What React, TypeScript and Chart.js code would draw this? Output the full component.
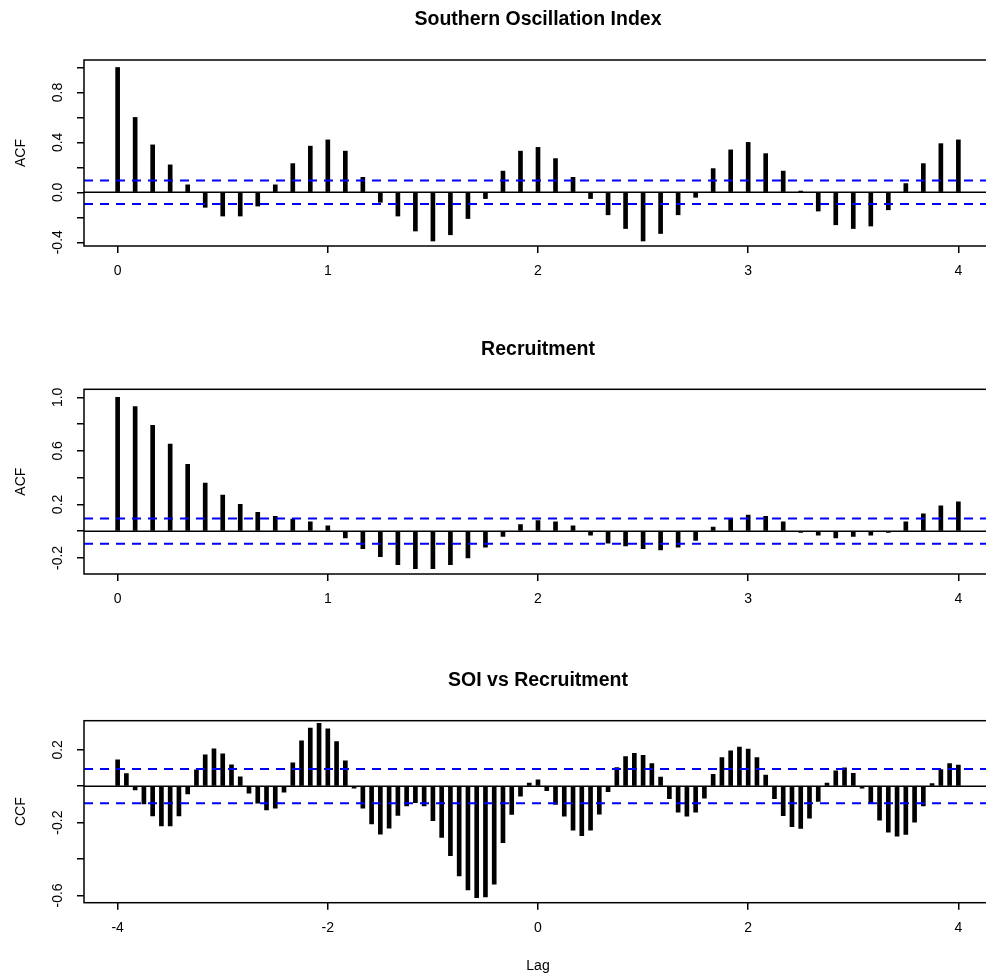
import React, { useEffect, useRef } from 'react';
import { Chart, registerables } from 'chart.js';

Chart.register(...registerables);

const FONT = "'Liberation Sans', Arial, Helvetica, sans-serif";

// Lags in years (monthly steps)
const acfLags = Array.from({ length: 49 }, (_, k) => k / 12);
const ccfLags = Array.from({ length: 97 }, (_, k) => (k - 48) / 12);

const soiAcf = [
  1.0, 0.6, 0.38, 0.22, 0.06, -0.12, -0.19, -0.19, -0.11, 0.06, 0.23, 0.37, 0.42,
  0.33, 0.12, -0.08, -0.19, -0.31, -0.39, -0.34, -0.21, -0.05, 0.17, 0.33, 0.36,
  0.27, 0.12, -0.05, -0.18, -0.29, -0.39, -0.33, -0.18, -0.04, 0.19, 0.34, 0.4,
  0.31, 0.17, 0.01, -0.15, -0.26, -0.29, -0.27, -0.14, 0.07, 0.23, 0.39, 0.42,
];

const recAcf = [
  1.0, 0.93, 0.79, 0.65, 0.5, 0.36, 0.27, 0.2, 0.14, 0.11, 0.09, 0.07, 0.04,
  -0.05, -0.13, -0.19, -0.25, -0.28, -0.28, -0.25, -0.2, -0.12, -0.04, 0.05, 0.08,
  0.07, 0.04, -0.03, -0.09, -0.11, -0.13, -0.14, -0.12, -0.07, 0.03, 0.09, 0.12,
  0.11, 0.07, -0.01, -0.03, -0.05, -0.04, -0.03, -0.01, 0.07, 0.13, 0.19, 0.22,
];

const soiRecCcf = [
  0.145, 0.07, -0.02, -0.097, -0.163, -0.218, -0.218, -0.163, -0.042, 0.09, 0.172, 0.205,
  0.178, 0.117, 0.051, -0.038, -0.093, -0.13, -0.12, -0.033, 0.128, 0.249, 0.32, 0.345,
  0.315, 0.245, 0.139, -0.011, -0.12, -0.207, -0.264, -0.231, -0.161, -0.108, -0.09, -0.108,
  -0.189, -0.282, -0.381, -0.493, -0.57, -0.612, -0.608, -0.538, -0.31, -0.155, -0.055, 0.017,
  0.035, -0.024, -0.1, -0.165, -0.242, -0.272, -0.242, -0.154, -0.03, 0.103, 0.163, 0.181,
  0.17, 0.125, 0.05, -0.068, -0.142, -0.165, -0.142, -0.065, 0.066, 0.158, 0.194, 0.215,
  0.204, 0.158, 0.061, -0.068, -0.162, -0.222, -0.232, -0.176, -0.084, 0.017, 0.084, 0.101,
  0.071, -0.011, -0.093, -0.187, -0.252, -0.275, -0.265, -0.197, -0.108, 0.014, 0.091, 0.125,
  0.116,
];

const confBound = 0.094;

const acfXTicks = [0, 1, 2, 3, 4];
const ccfXTicks = [-4, -2, 0, 2, 4];

const soiYTicks = [-0.4, -0.2, 0, 0.2, 0.4, 0.6, 0.8, 1.0];
const soiYLabels = [-0.4, 0, 0.4, 0.8];
const recYTicks = [-0.2, 0, 0.2, 0.4, 0.6, 0.8, 1.0];
const recYLabels = [-0.2, 0.2, 0.6, 1.0];
const ccfYTicks = [-0.6, -0.4, -0.2, 0, 0.2];
const ccfYLabels = [-0.6, -0.2, 0.2];

type PanelSpec = {
  title: string;
  yTitle: string;
  xTitle?: string;
  lags: number[];
  values: number[];
  xMin: number;
  xMax: number;
  xTicks: number[];
  yMin: number;
  yMax: number;
  yTicks: number[];
  yLabels: number[];
  titlePadTop: number;
  titlePadBottom: number;
  xAxisHeight: number;
  top: number;
  height: number;
};

const panels: PanelSpec[] = [
  {
    title: 'Southern Oscillation Index', yTitle: 'ACF', lags: acfLags, values: soiAcf,
    xMin: -0.16, xMax: 4.16, xTicks: acfXTicks, yMin: -0.43, yMax: 1.06,
    yTicks: soiYTicks, yLabels: soiYLabels, titlePadTop: 8, titlePadBottom: 28.6,
    xAxisHeight: 74, top: 0, height: 320,
  },
  {
    title: 'Recruitment', yTitle: 'ACF', lags: acfLags, values: recAcf,
    xMin: -0.16, xMax: 4.16, xTicks: acfXTicks, yMin: -0.32, yMax: 1.06,
    yTicks: recYTicks, yLabels: recYLabels, titlePadTop: 17.6, titlePadBottom: 28.3,
    xAxisHeight: 66, top: 320, height: 320,
  },
  {
    title: 'SOI vs Recruitment', yTitle: 'CCF', xTitle: 'Lag', lags: ccfLags, values: soiRecCcf,
    xMin: -4.32, xMax: 4.32, xTicks: ccfXTicks, yMin: -0.64, yMax: 0.36,
    yTicks: ccfYTicks, yLabels: ccfYLabels, titlePadTop: 28.6, titlePadBottom: 28.7,
    xAxisHeight: 72.3, top: 640, height: 335,
  },
];

const CANVAS_W = 1000;

function makeConfig(p: PanelSpec): any {
  const framePlugin = {
    id: 'frameAndLabels',
    afterDraw(chart: any) {
      const { ctx, chartArea } = chart;
      ctx.save();
      ctx.strokeStyle = '#000';
      ctx.lineWidth = 1.5;
      ctx.strokeRect(chartArea.left, chartArea.top, chartArea.right - chartArea.left, chartArea.bottom - chartArea.top);
      const ys = chart.scales.y;
      ctx.fillStyle = '#000';
      ctx.font = `14px ${FONT}`;
      ctx.textAlign = 'center';
      ctx.textBaseline = 'middle';
      p.yLabels.forEach((v) => {
        const py = ys.getPixelForValue(v);
        ctx.save();
        ctx.translate(58, py);
        ctx.rotate(-Math.PI / 2);
        ctx.fillText(v.toFixed(1), 0, 0);
        ctx.restore();
      });
      ctx.restore();
    },
  };

  return {
    type: 'bar',
    data: {
      datasets: [
        {
          type: 'line',
          data: [{ x: p.xMin, y: 0 }, { x: p.xMax, y: 0 }],
          borderColor: '#000', borderWidth: 1.5, pointRadius: 0, order: 2,
        },
        {
          type: 'bar',
          data: p.lags.map((x, i) => ({ x, y: p.values[i] })),
          backgroundColor: '#000', borderWidth: 0, barThickness: 4, order: 1,
        },
        {
          type: 'line',
          data: [{ x: p.xMin, y: confBound }, { x: p.xMax, y: confBound }],
          borderColor: '#0000ff', borderWidth: 2, borderDash: [9, 7], pointRadius: 0, order: 0,
        },
        {
          type: 'line',
          data: [{ x: p.xMin, y: -confBound }, { x: p.xMax, y: -confBound }],
          borderColor: '#0000ff', borderWidth: 2, borderDash: [9, 7], pointRadius: 0, order: 0,
        },
      ],
    },
    options: {
      animation: false,
      responsive: false,
      devicePixelRatio: 1,
      layout: { padding: { left: 0, right: CANVAS_W - 992, top: 0, bottom: 0 } },
      plugins: {
        legend: { display: false },
        tooltip: { enabled: false },
        title: {
          display: true,
          text: p.title,
          fullSize: false,
          color: '#000',
          font: { family: FONT, size: 19.5, weight: 'bold' },
          padding: { top: p.titlePadTop, bottom: p.titlePadBottom },
        },
      },
      scales: {
        x: {
          type: 'linear',
          min: p.xMin,
          max: p.xMax,
          offset: false,
          afterBuildTicks: (s: any) => { s.ticks = p.xTicks.map((v) => ({ value: v })); },
          afterFit: (s: any) => { s.height = p.xAxisHeight; },
          ticks: {
            autoSkip: false, maxRotation: 0, minRotation: 0, padding: 10,
            color: '#000', font: { family: FONT, size: 14 },
            callback: (v: any) => String(v),
          },
          grid: { offset: false, drawOnChartArea: false, drawTicks: true, tickLength: 7, color: '#000', lineWidth: 1.5 },
          border: { display: false },
          title: p.xTitle
            ? { display: true, text: p.xTitle, color: '#000', font: { family: FONT, size: 14 }, padding: { top: 0, bottom: 0.6 } }
            : { display: false },
        },
        y: {
          type: 'linear',
          min: p.yMin,
          max: p.yMax,
          afterBuildTicks: (s: any) => { s.ticks = p.yTicks.map((v) => ({ value: v })); },
          afterFit: (s: any) => { s.width = 84; },
          ticks: { color: 'rgba(0,0,0,0)', font: { family: FONT, size: 14 }, callback: () => '' },
          grid: { drawOnChartArea: false, drawTicks: true, tickLength: 7, color: '#000', lineWidth: 1.5 },
          border: { display: false },
          title: { display: true, text: p.yTitle, color: '#000', font: { family: FONT, size: 14 }, padding: { top: 13, bottom: 0 } },
        },
      },
    },
    plugins: [framePlugin],
  };
}

function Panel({ spec }: { spec: PanelSpec }) {
  const ref = useRef<HTMLCanvasElement | null>(null);
  useEffect(() => {
    if (!ref.current) return;
    const chart = new Chart(ref.current, makeConfig(spec));
    return () => chart.destroy();
  }, [spec]);
  return (
    <canvas
      ref={ref}
      width={CANVAS_W}
      height={spec.height}
      style={{ position: 'absolute', left: 0, top: spec.top, width: CANVAS_W, height: spec.height, display: 'block' }}
    />
  );
}

export default function App() {
  return (
    <div
      style={{
        position: 'fixed', left: 0, top: 0, width: 986, height: 975,
        overflow: 'hidden', background: '#fff',
      }}
    >
      {panels.map((p, i) => (
        <Panel key={i} spec={p} />
      ))}
    </div>
  );
}
